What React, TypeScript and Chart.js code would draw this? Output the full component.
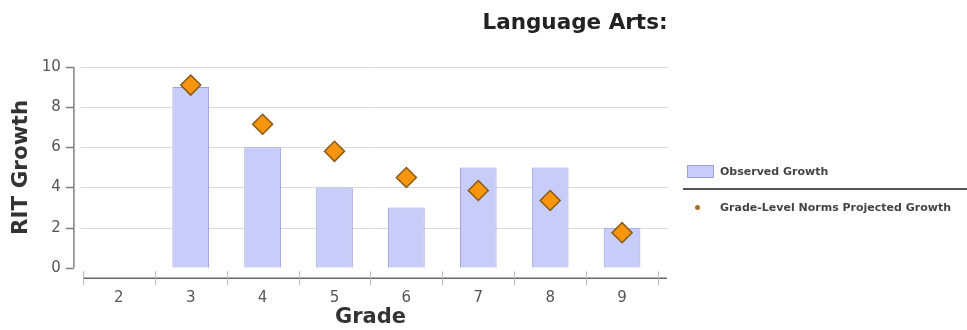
import React, { useEffect, useRef } from "react";
import { Chart, registerables } from "chart.js";

Chart.register(...registerables);

const grades = ["2", "3", "4", "5", "6", "7", "8", "9"];
const observedGrowth = [null, 9, 6, 4, 3, 5, 5, 2];
const projectedGrowth = [null, 9.1, 7.15, 5.8, 4.5, 3.85, 3.35, 1.75];
const yTicks = [0, 2, 4, 6, 8, 10];

const FONT = "'DejaVu Sans', Verdana, sans-serif";

const axesPlugin = {
  id: "jfAxes",
  beforeDatasetsDraw(chart: any) {
    const { ctx, chartArea: a, scales } = chart;
    const x = scales.x;
    const y = scales.y;
    const line = (x1: number, y1: number, x2: number, y2: number) => {
      ctx.beginPath();
      ctx.moveTo(x1, y1);
      ctx.lineTo(x2, y2);
      ctx.stroke();
    };
    ctx.save();
    // horizontal grid
    ctx.strokeStyle = "#dcdcdc";
    ctx.lineWidth = 1;
    yTicks.forEach((v) => {
      if (v === 0) return;
      const py = Math.round(y.getPixelForValue(v)) + 0.5;
      line(a.left - 2, py, a.right + 10, py);
    });
    // y axis
    const ax = a.left - 9;
    ctx.strokeStyle = "#808080";
    ctx.lineWidth = 1.5;
    line(ax, a.top, ax, a.bottom);
    yTicks.forEach((v) => {
      const py = Math.round(y.getPixelForValue(v)) + 0.5;
      line(ax - 8, py, ax, py);
    });
    // x axis
    const ay = a.bottom + 10.5;
    ctx.strokeStyle = "#666";
    ctx.lineWidth = 1.5;
    line(a.left, ay, a.right + 9, ay);
    const half = (x.getPixelForValue(1) - x.getPixelForValue(0)) / 2;
    ctx.strokeStyle = "#bbb";
    ctx.lineWidth = 1;
    for (let i = 0; i <= grades.length; i++) {
      const px = Math.round(x.getPixelForValue(0) - half + i * 2 * half) + 0.5;
      line(px, ay - 7, px, ay + 7);
    }
    ctx.restore();
  },
};

export default function App() {
  const ref = useRef<HTMLCanvasElement>(null);
  useEffect(() => {
    if (!ref.current) return;
    const chart = new Chart(ref.current, {
      type: "bar",
      data: {
        labels: grades,
        datasets: [
          {
            type: "bar",
            label: "Observed Growth",
            data: observedGrowth as any,
            backgroundColor: "#c7ccf8",
            borderColor: "#9aa1dc",
            borderWidth: 1,
            categoryPercentage: 1,
            barPercentage: 0.51,
            order: 2,
          },
          {
            type: "line",
            label: "Grade-Level Norms Projected Growth",
            data: projectedGrowth as any,
            showLine: false,
            pointStyle: "rectRot",
            pointRadius: 10,
            backgroundColor: "#f7950e",
            borderColor: "#8a5a14",
            borderWidth: 1.5,
            order: 1,
          } as any,
        ],
      },
      options: {
        animation: false,
        responsive: false,
        maintainAspectRatio: false,
        layout: { padding: { top: 67, right: 309, bottom: 0, left: 0 } },
        plugins: {
          legend: { display: false },
          tooltip: { enabled: false },
          title: { display: false },
        },
        scales: {
          x: {
            type: "category",
            offset: true,
            grid: { display: false, drawTicks: false },
            border: { display: false },
            ticks: { padding: 21, color: "#555", font: { family: FONT, size: 15 } },
            title: {
              display: true,
              text: "Grade",
              color: "#333",
              font: { family: FONT, size: 21, weight: "bold" },
              padding: { top: -23, bottom: 0 },
            },
          },
          y: {
            min: 0,
            max: 10,
            afterBuildTicks: (s: any) => {
              s.ticks = yTicks.map((v) => ({ value: v }));
            },
            grid: { display: false, drawTicks: false },
            border: { display: false },
            ticks: { padding: 22, color: "#555", font: { family: FONT, size: 15 } },
            title: {
              display: true,
              text: "RIT Growth",
              color: "#333",
              font: { family: FONT, size: 21.5, weight: "bold" },
              padding: { top: 9, bottom: -15 },
            },
          },
        },
      } as any,
      plugins: [axesPlugin],
    });
    return () => chart.destroy();
  }, []);

  const legendText: React.CSSProperties = {
    position: "absolute",
    left: 720,
    fontFamily: FONT,
    fontSize: 11,
    fontWeight: "bold",
    color: "#444",
    lineHeight: "14px",
    whiteSpace: "nowrap",
  };

  return (
    <div style={{ position: "fixed", left: 0, top: 0, width: 967, height: 330, background: "#fff" }}>
      <canvas ref={ref} width={967} height={330} style={{ position: "absolute", left: 0, top: 0, width: 967, height: 330 }} />
      <div
        style={{
          position: "absolute",
          left: 575,
          top: 10,
          transform: "translateX(-50%)",
          fontFamily: FONT,
          fontSize: 21.5,
          fontWeight: "bold",
          color: "#222",
          lineHeight: "24px",
          whiteSpace: "nowrap",
        }}
      >
        Language Arts:
      </div>
      <div
        style={{
          position: "absolute",
          left: 687,
          top: 165,
          width: 25,
          height: 11,
          background: "#c7ccf8",
          border: "1px solid #9aa1dc",
        }}
      />
      <div style={{ ...legendText, top: 165 }}>Observed Growth</div>
      <div style={{ position: "absolute", left: 683, top: 188, width: 284, height: 2, background: "#555" }} />
      <div
        style={{
          position: "absolute",
          left: 695,
          top: 205,
          width: 5,
          height: 5,
          borderRadius: "50%",
          background: "#a8702a",
        }}
      />
      <div style={{ ...legendText, top: 201 }}>Grade-Level Norms Projected Growth</div>
    </div>
  );
}
